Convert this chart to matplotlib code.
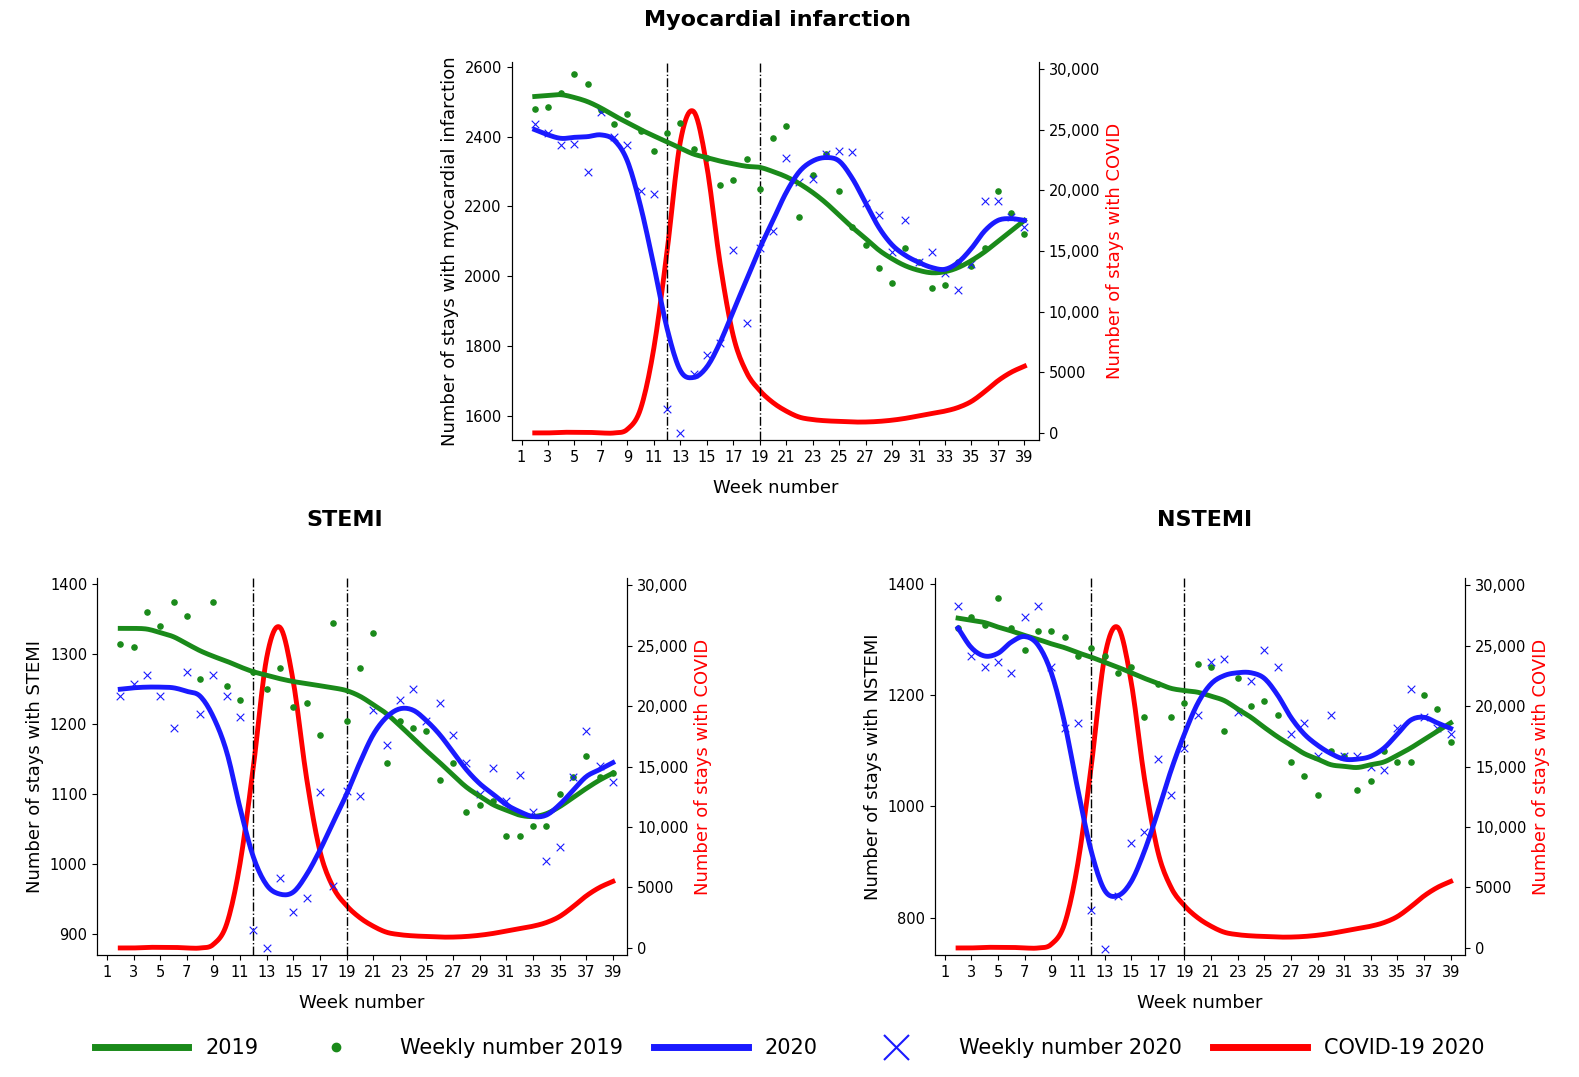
import numpy as np
import matplotlib
matplotlib.use("Agg")
import matplotlib.pyplot as plt
from matplotlib.lines import Line2D

weeks = list(range(2, 40))
covid = [0,0,50,50,50,0,0,300,2000,7000,15000,24000,26500,22000,14000,8000,5000,3500,2500,1800,1300,1100,1000,950,900,900,950,1050,1200,1400,1600,1800,2100,2600,3400,4300,5000,5500]

mi_dots19 = [2480,2485,2525,2580,2550,2475,2435,2465,2415,2360,2410,2440,2365,2340,2260,2275,2335,2250,2395,2430,2170,2290,2350,2245,2140,2090,2025,1980,2080,2040,1965,1975,2040,2030,2080,2245,2180,2120]
mi_x20 = [2435,2410,2375,2380,2300,2470,2400,2375,2245,2235,1620,1550,1720,1775,1810,2075,1865,2080,2130,2340,2270,2280,2350,2360,2355,2210,2175,2070,2160,2040,2070,2010,1960,2035,2215,2215,2170,2140]
mi_s19 = [2515,2518,2520,2512,2500,2482,2460,2440,2420,2402,2385,2367,2350,2340,2330,2322,2315,2312,2300,2285,2265,2240,2210,2175,2140,2108,2075,2050,2030,2017,2010,2013,2025,2045,2070,2100,2130,2160]
mi_s20 = [2420,2405,2395,2398,2400,2405,2390,2330,2200,2030,1850,1730,1710,1740,1810,1900,1990,2080,2160,2240,2300,2330,2340,2330,2280,2210,2140,2090,2060,2040,2025,2020,2040,2080,2130,2160,2165,2160]

st_dots19 = [1315,1310,1360,1340,1375,1355,1265,1375,1255,1235,1275,1250,1280,1225,1230,1185,1345,1205,1280,1330,1145,1205,1195,1190,1120,1145,1075,1085,1090,1040,1040,1055,1055,1100,1125,1155,1125,1130]
st_x20 = [1240,1258,1270,1240,1195,1275,1215,1270,1240,1210,905,880,980,932,952,1103,968,1105,1098,1220,1170,1235,1250,1205,1230,1185,1145,1100,1137,1090,1128,1075,1005,1025,1125,1190,1140,1118]
st_s19 = [1337,1337,1336,1331,1325,1315,1305,1297,1290,1282,1275,1270,1265,1261,1258,1255,1252,1248,1240,1228,1215,1198,1180,1162,1145,1127,1110,1097,1085,1077,1070,1068,1072,1082,1095,1108,1120,1130]
st_s20 = [1250,1252,1253,1253,1252,1247,1240,1210,1160,1080,1010,970,957,960,985,1020,1060,1100,1145,1185,1210,1222,1220,1205,1185,1160,1135,1115,1100,1085,1075,1068,1070,1085,1105,1125,1135,1145]

ns_dots19 = [1320,1340,1325,1375,1320,1280,1315,1315,1305,1270,1285,1270,1240,1250,1160,1220,1160,1185,1255,1250,1135,1230,1180,1190,1165,1080,1055,1020,1100,1090,1030,1045,1100,1080,1080,1200,1175,1115]
ns_x20 = [1360,1270,1250,1260,1240,1340,1360,1250,1140,1150,815,745,840,935,955,1085,1020,1105,1165,1260,1265,1170,1225,1280,1250,1130,1150,1090,1165,1090,1090,1070,1065,1140,1210,1160,1140,1130]
ns_s19 = [1338,1334,1330,1322,1315,1307,1300,1292,1285,1276,1268,1259,1250,1240,1230,1221,1212,1208,1205,1198,1190,1175,1160,1142,1125,1110,1095,1085,1075,1072,1070,1075,1080,1092,1105,1120,1135,1150]
ns_s20 = [1320,1285,1270,1275,1295,1305,1290,1240,1150,1030,920,850,840,865,920,990,1065,1130,1185,1220,1235,1240,1240,1230,1200,1160,1130,1110,1095,1085,1085,1090,1105,1130,1155,1160,1150,1140]

GREEN = "#1a8a1a"; BLUE = "#1a1aff"; RED = "#ff0000"

def smooth(x, y, n=10):
    x = np.asarray(x, float); y = np.asarray(y, float)
    xp = np.concatenate([[2*x[0]-x[1]], x, [2*x[-1]-x[-2]]])
    yp = np.concatenate([[2*y[0]-y[1]], y, [2*y[-1]-y[-2]]])
    xs, ys = [], []
    for i in range(1, len(x)):
        t = np.linspace(0, 1, n, endpoint=False)
        p0, p1, p2, p3 = yp[i-1], yp[i], yp[i+1], yp[i+2]
        ys.append(0.5*((2*p1)+(-p0+p2)*t+(2*p0-5*p1+4*p2-p3)*t**2+(-p0+3*p1-3*p2+p3)*t**3))
        xs.append(xp[i] + t*(xp[i+1]-xp[i]))
    xs.append([x[-1]]); ys.append([y[-1]])
    return np.concatenate(xs), np.concatenate(ys)

fig = plt.figure(figsize=(15.79, 10.77), dpi=100)
plt.rcParams['font.family'] = ['DejaVu Sans']

def panel(rect, title, tpos, ylabel, ylim, yticks, d19, x20, s19, s20):
    ax = fig.add_axes(rect)
    ax2 = ax.twinx()
    ax.set_zorder(ax2.get_zorder()+1); ax.patch.set_visible(False)
    xs, ys = smooth(weeks, covid)
    ax2.plot(xs, ys, color=RED, lw=3.5)
    ax2.set_ylim(-580, 30580)
    ax2.set_yticks([0,5000,10000,15000,20000,25000,30000])
    ax2.set_yticklabels(["0","5000","10,000","15,000","20,000","25,000","30,000"])
    ax2.set_ylabel("Number of stays with COVID", color=RED, fontsize=13)
    ax.scatter(weeks, d19, color=GREEN, s=14, zorder=3)
    ax.scatter(weeks, x20, color=BLUE, marker='x', s=30, lw=0.8, zorder=3)
    xs, ys = smooth(weeks, s19); ax.plot(xs, ys, color=GREEN, lw=3.5, zorder=4)
    xs, ys = smooth(weeks, s20); ax.plot(xs, ys, color=BLUE, lw=3.5, zorder=4)
    for w in (12, 19):
        ax.axvline(w, color='black', ls='-.', lw=1)
    ax.set_xlim(0.25, 40.1); ax.set_ylim(*ylim)
    ax.set_xticks(range(1, 40, 2))
    ax.tick_params(labelsize=10.5); ax2.tick_params(labelsize=10.5)
    ax.set_yticks(yticks)
    ax.set_xlabel("Week number", fontsize=13, labelpad=10)
    ax.set_ylabel(ylabel, fontsize=13)
    fig.text(tpos[0]/1579, 1-tpos[1]/1077, title, fontsize=16, fontweight='bold', ha='center', va='center')
    for a in (ax, ax2):
        a.spines['top'].set_visible(False)

panel([0.324, 0.5915, 0.334, 0.351], "Myocardial infarction", (778, 20), "Number of stays with myocardial infarction",
      (1531, 2614), range(1600, 2601, 200), mi_dots19, mi_x20, mi_s19, mi_s20)
panel([0.0614, 0.1133, 0.336, 0.350], "STEMI", (345, 520), "Number of stays with STEMI",
      (870, 1409), range(900, 1401, 100), st_dots19, st_x20, st_s19, st_s20)
panel([0.592, 0.1133, 0.336, 0.350], "NSTEMI", (1205, 520), "Number of stays with NSTEMI",
      (733.5, 1410), range(800, 1401, 200), ns_dots19, ns_x20, ns_s19, ns_s20)

handles = [Line2D([], [], color=GREEN, lw=5),
           Line2D([], [], color=GREEN, marker='o', ls='', ms=6),
           Line2D([], [], color=BLUE, lw=5),
           Line2D([], [], color=BLUE, marker='x', ls='', ms=18, mew=1.5),
           Line2D([], [], color=RED, lw=5)]
labels = ["2019", "Weekly number 2019", "2020", "Weekly number 2020", "COVID-19 2020"]
fig.legend(handles, labels, loc='lower center', bbox_to_anchor=(0.5, 0.0), ncol=5, frameon=False,
           fontsize=15, handlelength=4.5, handletextpad=0.8, columnspacing=1.5)
fig.savefig("out.png", dpi=100)
